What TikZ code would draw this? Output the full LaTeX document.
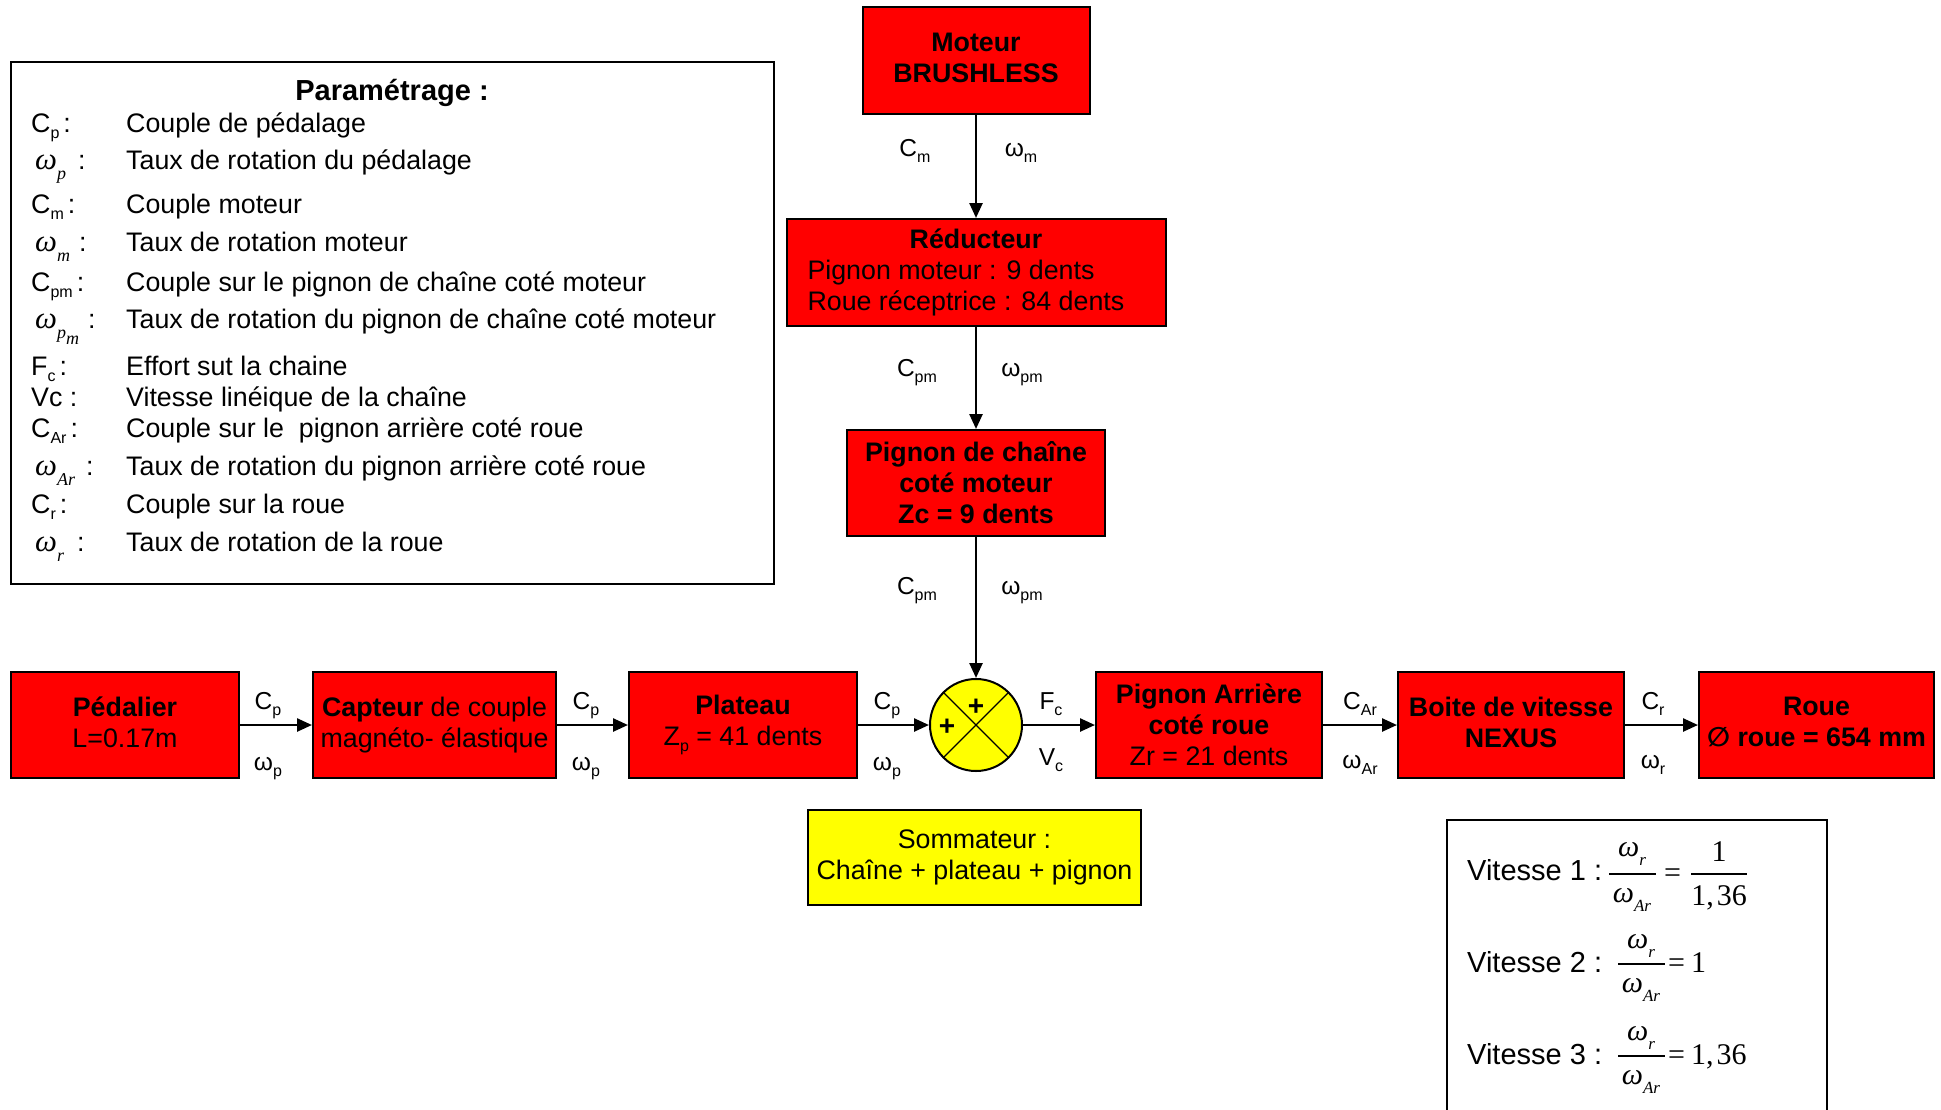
\documentclass[tikz,border=0pt]{standalone}
\usepackage{fontspec}
\setmainfont{Liberation Sans}
\newfontfamily\tnr{Liberation Serif}
\newfontfamily\dvs{DejaVu Sans}
\usetikzlibrary{arrows.meta}
\definecolor{blkred}{RGB}{255,0,0}
\definecolor{sumyel}{RGB}{255,255,0}
\newcommand\fs{\fontsize{26.8}{31}\selectfont}
\newcommand\lfs{\fontsize{24.5}{28}\selectfont}
% small lowered index, sans
\newcommand\sbs[1]{\raisebox{-0.25em}{\fontsize{16}{16}\selectfont #1}}
% italic serif omega with italic index
\newcommand\wit[1]{{\tnr\itshape\fontsize{31}{31}\selectfont ω\raisebox{-0.35em}{\fontsize{18}{18}\selectfont #1}}}
\newcommand\witt[1]{{\tnr\itshape\fontsize{30}{30}\selectfont ω\raisebox{-0.3em}{\fontsize{17}{17}\selectfont #1}}}
% depth keeper for last lines without descenders
\newcommand\dstrut{\rule[-6pt]{0pt}{6pt}}
\begin{document}
\begin{tikzpicture}[x=1pt,y=-1pt,
  blk/.style={draw=black,line width=2pt,fill=blkred,inner sep=0pt,align=center,font=\fs},
  blkb/.style={blk,font=\fs\bfseries},
  frame/.style={draw=black,line width=2pt,inner sep=0pt},
  lbl/.style={inner sep=0pt,font=\lfs,anchor=base},
  leg/.style={inner sep=0pt,font=\fs,anchor=base west},
  vit/.style={inner sep=0pt,font=\fontsize{29}{32}\selectfont,anchor=base west},
  mth/.style={inner sep=0pt,anchor=center},
  tms/.style={inner sep=0pt,font=\tnr\fontsize{30}{30}\selectfont},
  plus/.style={inner sep=0pt,font=\fontsize{28}{28}\selectfont\bfseries},
  flow/.style={line width=2.5pt,-{Triangle[length=15pt,width=13pt]}},
  bar/.style={line width=1.6pt},
]
\useasboundingbox (0,0) rectangle (1941,1109);

% ---------- parameter list ----------
\node[frame,minimum width=763pt,minimum height=522pt] (param) at (392.5,323) {};
\node[leg,font=\fontsize{29}{32}\selectfont\bfseries,anchor=base] (ptitle) at (392,100) {Paramétrage :};
\node[leg] (s1) at (31,132) {C\sbs{p}\hspace{4pt}:};
\node[leg] (d1) at (126,132) {Couple de pédalage};
\node[leg] (s2) at (35,169) {\wit{p}\hspace{12pt}:};
\node[leg] (d2) at (126,169) {Taux de rotation du pédalage};
\node[leg] (s3) at (31,213) {C\sbs{m}\hspace{4pt}:};
\node[leg] (d3) at (126,213) {Couple moteur};
\node[leg] (s4) at (35,251) {\wit{m}\hspace{9pt}:};
\node[leg] (d4) at (126,251) {Taux de rotation moteur};
\node[leg] (s5) at (31,291) {C\sbs{pm}\hspace{4pt}:};
\node[leg] (d5) at (126,291) {Couple sur le pignon de chaîne coté moteur};
\node[leg] (s6) at (35,328) {\wit{p\raisebox{-0.3em}{m}}\hspace{9pt}:};
\node[leg] (d6) at (126,328) {Taux de rotation du pignon de chaîne coté moteur};
\node[leg] (s7) at (31,375) {F\sbs{c}\hspace{4pt}:};
\node[leg] (d7) at (126,375) {Effort sut la chaine};
\node[leg] (s8) at (31,406) {Vc :};
\node[leg] (d8) at (126,406) {Vitesse linéique de la chaîne};
\node[leg] (s9) at (31,437) {C\sbs{Ar}\hspace{4pt}:};
\node[leg] (d9) at (126,437) {Couple sur le\ \ pignon arrière coté roue};
\node[leg] (s10) at (35,475) {\wit{Ar}\hspace{11pt}:};
\node[leg] (d10) at (126,475) {Taux de rotation du pignon arrière coté roue};
\node[leg] (s11) at (31,513) {C\sbs{r}\hspace{4pt}:};
\node[leg] (d11) at (126,513) {Couple sur la roue};
\node[leg] (s12) at (35,551) {\wit{r}\hspace{13pt}:};
\node[leg] (d12) at (126,551) {Taux de rotation de la roue};

% ---------- motor branch ----------
\node[blkb,minimum width=227pt,minimum height=107pt] (mot) at (976,60.5) {Moteur\\BRUSHLESS\dstrut};
\node[blk,minimum width=379pt,minimum height=107pt] (red) at (976,272.5)
  {\parbox{337pt}{\fs\centering\textbf{Réducteur}\par\raggedright Pignon moteur : 9 dents\par Roue réceptrice : 84 dents}};
\node[blkb,minimum width=258pt,minimum height=106pt] (pch) at (976,483) {Pignon de chaîne\\coté moteur\\Zc = 9 dents};

% ---------- main chain ----------
\node[blk,minimum width=228pt,minimum height=106pt] (ped) at (125,725) {\textbf{Pédalier}\\L=0.17m\dstrut};
\node[blk,minimum width=243pt,minimum height=106pt] (cap) at (434.5,725) {\textbf{Capteur} de couple\\magnéto- élastique};
\node[blk,minimum width=228pt,minimum height=106pt] (plat) at (743,725) {\textbf{Plateau}\\Z\sbs{p} = 41 dents};
\node[circle,draw=black,line width=2pt,fill=sumyel,minimum size=92pt,inner sep=0pt] (sum) at (976,725) {};
\draw[line width=1.3pt] (sum.north west) -- (sum.south east);
\draw[line width=1.3pt] (sum.north east) -- (sum.south west);
\node[plus] (ptop) at (976,707) {+};
\node[plus] (pleft) at (947,727) {+};
\node[blk,minimum width=226pt,minimum height=106pt] (par) at (1209,725) {\textbf{Pignon Arrière}\\\textbf{coté roue}\\Zr = 21 dents};
\node[blkb,minimum width=226pt,minimum height=106pt] (nex) at (1511,725) {Boite de vitesse\\NEXUS\dstrut};
\node[blkb,minimum width=235pt,minimum height=106pt] (roue) at (1816.5,725) {Roue\\{\dvs\bfseries ∅} roue = 654 mm\dstrut};

% ---------- connectors ----------
\draw[flow] (mot) -- (red);
\draw[flow] (red) -- (pch);
\draw[flow] (pch) -- (sum);
\draw[flow] (ped) -- (cap);
\draw[flow] (cap) -- (plat);
\draw[flow] (plat) -- (sum);
\draw[flow] (sum) -- (par);
\draw[flow] (par) -- (nex);
\draw[flow] (nex) -- (roue);

% ---------- flow labels ----------
\node[lbl] (lcm) at (915,156) {C\sbs{m}};
\node[lbl] (lwm) at (1021,156) {ω\sbs{m}};
\node[lbl] (lcpm1) at (917,376) {C\sbs{pm}};
\node[lbl] (lwpm1) at (1022,376) {ω\sbs{pm}};
\node[lbl] (lcpm2) at (917,594) {C\sbs{pm}};
\node[lbl] (lwpm2) at (1022,594) {ω\sbs{pm}};
\node[lbl] (lcp1) at (268,709) {C\sbs{p}};
\node[lbl] (lwp1) at (268,770) {ω\sbs{p}};
\node[lbl] (lcp2) at (586,709) {C\sbs{p}};
\node[lbl] (lwp2) at (586,770) {ω\sbs{p}};
\node[lbl] (lcp3) at (887,709) {C\sbs{p}};
\node[lbl] (lwp3) at (887,770) {ω\sbs{p}};
\node[lbl] (lfc) at (1051,709) {F\sbs{c}};
\node[lbl] (lvc) at (1051,765) {V\sbs{c}};
\node[lbl] (lcar) at (1360,709) {C\sbs{Ar}};
\node[lbl] (lwar) at (1360,768) {ω\sbs{Ar}};
\node[lbl] (lcr) at (1653,709) {C\sbs{r}};
\node[lbl] (lwr) at (1653,768) {ω\sbs{r}};

% ---------- summing note ----------
\node[frame,fill=sumyel,minimum width=333pt,minimum height=95pt,align=center,font=\fs] (note) at (974.5,857)
  {Sommateur :\\Chaîne + plateau + pignon};

% ---------- gear ratios ----------
\node[frame,minimum width=380pt,minimum height=292pt] (ratios) at (1637,966) {};
\node[vit] (v1) at (1467,880) {Vitesse 1 :};
\node[mth] (v1n) at (1632,854) {\witt{r}};
\draw[bar] (1609,874) -- (1656,874);
\node[mth] (v1d) at (1632,900) {\witt{Ar}};
\node[tms,anchor=base west] (v1e) at (1664,882) {=};
\node[tms] (v1a) at (1719,852) {1};
\draw[bar] (1691,874) -- (1747,874);
\node[tms] (v1b) at (1719,898) {1,\hspace{3pt}36};

\node[vit] (v2) at (1467,972) {Vitesse 2 :};
\node[mth] (v2n) at (1641,946) {\witt{r}};
\draw[bar] (1618,964) -- (1665,964);
\node[mth] (v2d) at (1641,990) {\witt{Ar}};
\node[tms,anchor=base west] (v2e) at (1668,972) {=\hspace{6pt}1};

\node[vit] (v3) at (1467,1064) {Vitesse 3 :};
\node[mth] (v3n) at (1641,1038) {\witt{r}};
\draw[bar] (1618,1056) -- (1665,1056);
\node[mth] (v3d) at (1641,1082) {\witt{Ar}};
\node[tms,anchor=base west] (v3e) at (1668,1064) {=\hspace{6pt}1,\hspace{3pt}36};
\end{tikzpicture}
\end{document}
